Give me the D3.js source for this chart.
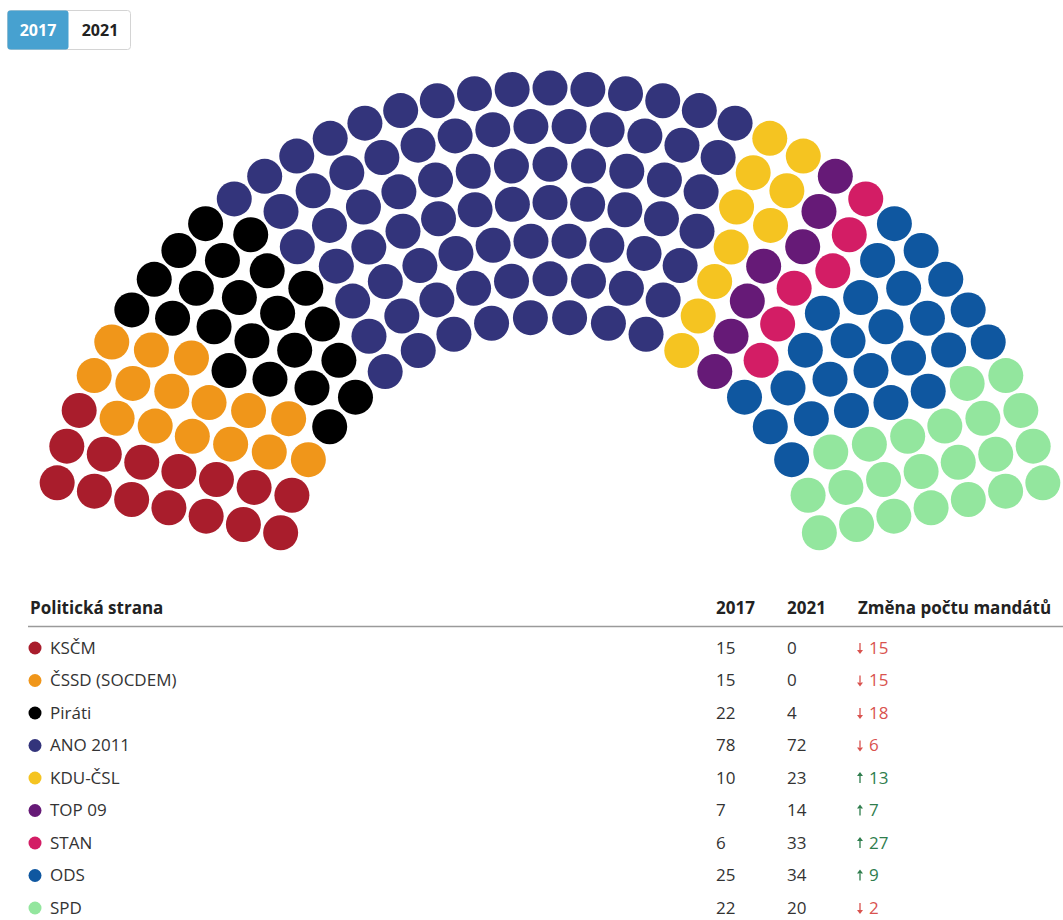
<!DOCTYPE html>
<html>
<head>
<meta charset="utf-8">
<script src="https://cdn.jsdelivr.net/npm/d3@7"></script>
<style>
  body { margin: 0; background: #fff; font-family: "Open Sans", Lato, sans-serif; }
</style>
</head>
<body>
<div id="chart"></div>
<script>
const years = ["2017", "2021"];
const parties = ["KSČM", "ČSSD (SOCDEM)", "Piráti", "ANO 2011", "KDU-ČSL", "TOP 09", "STAN", "ODS", "SPD"];
const seats2017 = [15, 15, 22, 78, 10, 7, 6, 25, 22];
const seats2021 = [0, 0, 4, 72, 23, 14, 33, 34, 20];
const partyColors = ["#a91d2c", "#f0961a", "#000000", "#33347b", "#f5c421", "#661a77", "#d31d65", "#0f57a0", "#93e69e"];

let width = 1063, height = 920;
let cx = 550, cy = 593;
let rows = 7;
let dotR = 17.5;
let startAngle = 12.6 * Math.PI / 180;

let svg = d3.select("#chart").append("svg")
    .attr("width", width)
    .attr("height", height)
    .style("font-family", "'Open Sans', Lato, sans-serif");

let radius = d3.scaleLinear().domain([0, rows - 1]).range([276, 505]);

// seats per row, proportional to row radius (largest remainder)
function rowCounts(total){
    let rs = d3.range(rows).map(radius);
    let sum = d3.sum(rs);
    let raw = rs.map(r => total * r / sum);
    let n = raw.map(Math.floor);
    let left = total - d3.sum(n);
    d3.range(rows).sort((a, b) => (raw[b] - n[b]) - (raw[a] - n[a]))
        .slice(0, left).forEach(i => n[i]++);
    return n;
}

function seatPositions(total){
    let counts = rowCounts(total);
    let pts = [];
    counts.forEach((n, i) => {
        let ang = d3.scaleLinear().domain([0, n - 1]).range([Math.PI - startAngle, startAngle]);
        for (let j = 0; j < n; j++) {
            let a = ang(j);
            pts.push({a: a, x: cx + radius(i) * Math.cos(a), y: cy - radius(i) * Math.sin(a), row: i});
        }
    });
    pts.sort((p, q) => (q.a - p.a) || (p.row - q.row));
    return pts;
}

let seatG = svg.append("g");

function drawSeats(values){
    let total = d3.sum(values);
    let pts = seatPositions(total);
    let idx = 0;
    values.forEach((v, k) => {
        for (let s = 0; s < v; s++) pts[idx++].party = k;
    });
    seatG.selectAll("circle")
        .data(pts)
        .join("circle")
            .attr("cx", d => d.x)
            .attr("cy", d => d.y)
            .attr("r", dotR)
            .attr("fill", d => partyColors[d.party]);
}

// year toggle buttons
let btnX = d3.scaleBand().domain(years).range([7, 131]);

svg.append("rect")
    .attr("x", 7.5).attr("y", 10.5)
    .attr("width", 123).attr("height", 39)
    .attr("rx", 3)
    .attr("fill", "#fff")
    .attr("stroke", "#d4d4d4");

let btn = svg.append("g").selectAll("g")
    .data(years)
    .join("g")
        .style("cursor", "pointer")
        .on("click", (e, y) => select(y));

btn.append("rect")
    .attr("class", "bg")
    .attr("x", d => btnX(d) + 0.5)
    .attr("y", 10.5)
    .attr("width", btnX.bandwidth() - 1)
    .attr("height", 39)
    .attr("rx", 3);

btn.append("text")
    .attr("x", d => btnX(d) + btnX.bandwidth() / 2)
    .attr("y", 30)
    .attr("dy", "0.35em")
    .attr("text-anchor", "middle")
    .style("font-weight", "bold")
    .style("font-size", "16px")
    .text(d => d);

function select(year){
    btn.select("rect.bg").attr("fill", d => d === year ? "#47a1d0" : "none");
    btn.select("text").attr("fill", d => d === year ? "#fff" : "#222");
    drawSeats(year === "2017" ? seats2017 : seats2021);
}

// table
let table = svg.append("g").style("font-size", "17px").attr("fill", "#333");
let colX = {name: 30, y1: 716, y2: 787, diff: 858};

let head = table.append("g").style("font-weight", "bold").attr("fill", "#222");
head.append("text").attr("x", colX.name).attr("y", 608).attr("dy", "0.35em").text("Politická strana");
head.append("text").attr("x", colX.y1).attr("y", 608).attr("dy", "0.35em").text(years[0]);
head.append("text").attr("x", colX.y2).attr("y", 608).attr("dy", "0.35em").text(years[1]);
head.append("text").attr("x", colX.diff).attr("y", 608).attr("dy", "0.35em").text("Změna počtu mandátů");

table.append("line")
    .attr("x1", 28).attr("x2", width)
    .attr("y1", 626.5).attr("y2", 626.5)
    .attr("stroke", "#9a9a9a")
    .attr("stroke-width", 1.5);

let rowY = d3.scaleLinear().domain([0, parties.length - 1]).range([648, 908]);

let row = table.selectAll("g.row")
    .data(parties)
    .join("g")
        .attr("class", "row")
        .attr("transform", (d, i) => `translate(0,${rowY(i)})`);

row.append("circle")
    .attr("cx", 35).attr("cy", 0).attr("r", 6.5)
    .attr("fill", (d, i) => partyColors[i]);

row.append("text").attr("x", 50).attr("dy", "0.35em").text(d => d);
row.append("text").attr("x", colX.y1).attr("dy", "0.35em").text((d, i) => seats2017[i]);
row.append("text").attr("x", colX.y2).attr("dy", "0.35em").text((d, i) => seats2021[i]);

row.each(function(d, i){
    let diff = seats2021[i] - seats2017[i];
    let up = diff > 0;
    let col = up ? "#2f7d4d" : "#d9534f";
    let g = d3.select(this).append("g").attr("transform", `translate(${colX.diff + 2},0)`);
    let dir = up ? -1 : 1;
    g.append("line")
        .attr("x1", 0).attr("x2", 0)
        .attr("y1", -5 * dir).attr("y2", 2 * dir)
        .attr("stroke", col).attr("stroke-width", 1.3);
    g.append("path")
        .attr("d", `M-3,${2 * dir}L3,${2 * dir}L0,${6 * dir}Z`)
        .attr("fill", col);
    g.append("text").attr("x", 9).attr("dy", "0.35em").attr("fill", col).text(Math.abs(diff));
});

select("2017");
</script>
</body>
</html>
